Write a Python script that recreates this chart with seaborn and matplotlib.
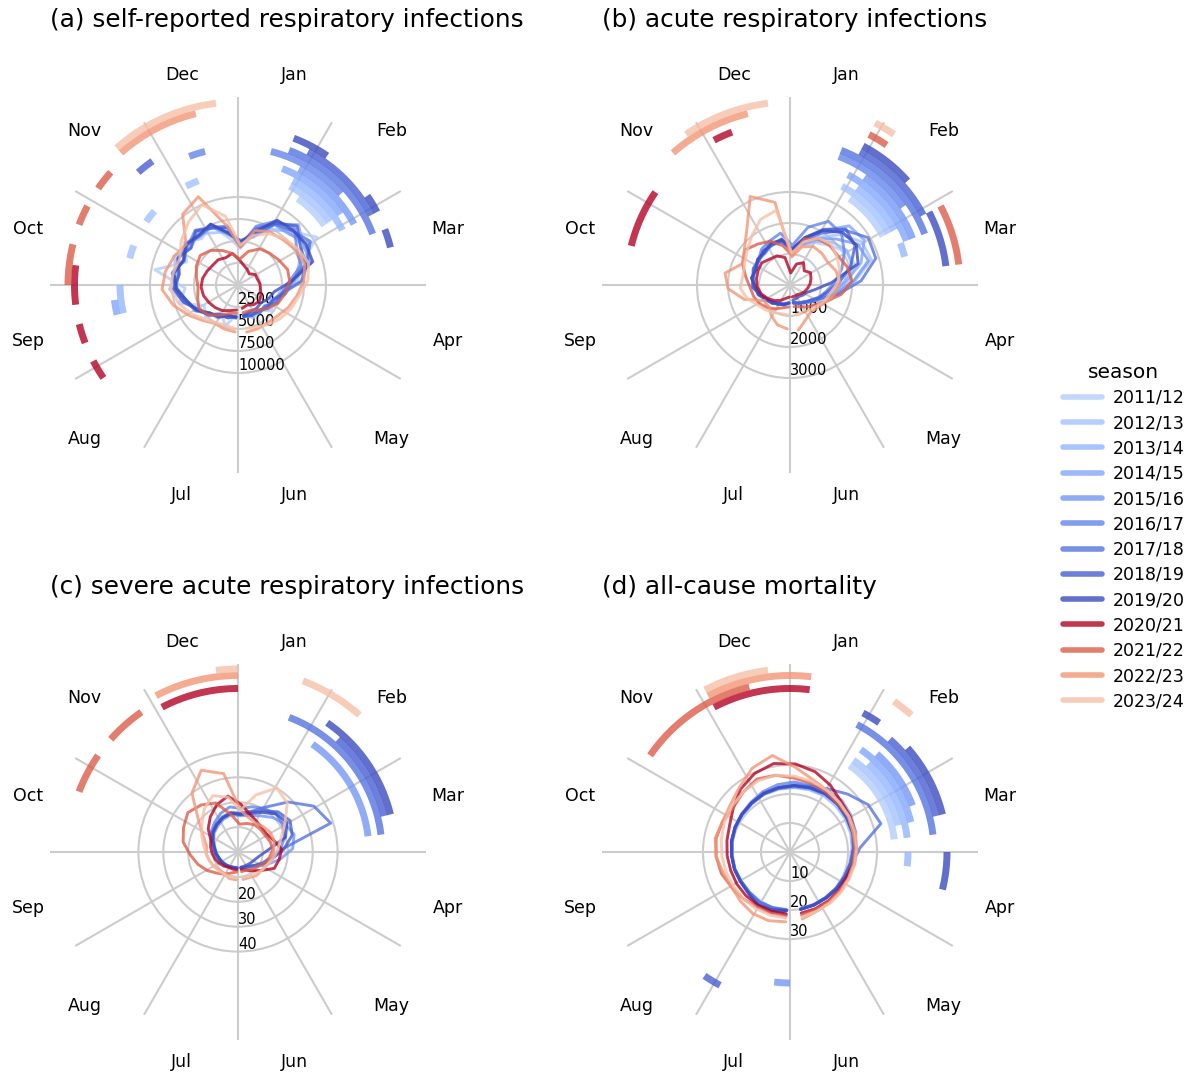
import numpy as np
import pandas as pd
import matplotlib
matplotlib.use("Agg")
import matplotlib.pyplot as plt
import seaborn as sns
from matplotlib.lines import Line2D

# ---------------- data ----------------
seasons = ["2011/12", "2012/13", "2013/14", "2014/15", "2015/16", "2016/17", "2017/18",
           "2018/19", "2019/20", "2020/21", "2021/22", "2022/23", "2023/24"]
months = ["Jan", "Feb", "Mar", "Apr", "May", "Jun", "Jul", "Aug", "Sep", "Oct", "Nov", "Dec"]
# calendar weeks of the season (July -> June), every second week
weeks = [27, 29, 31, 33, 35, 37, 39, 41, 43, 45, 47, 49, 51, 1, 3, 5, 7, 9, 11, 13, 15, 17, 19, 21, 23, 25]

sri = [
    [3400, 4900, 3600, 5200, 4500, 7000, 6000, 9600, 6400, 7800, 6700, 7400, 5400, 4200, 6000, 7400, 8600, 10500, 7400, 6800, 5000, 4400, 4800, 3600, 4100, 3400],
    [3500, 3900, 3800, 4700, 5400, 6400, 7800, 7000, 8000, 6800, 7400, 6500, 6200, 4300, 6300, 7200, 8900, 8800, 8700, 6400, 5500, 4400, 4200, 3700, 3800, 3400],
    [3700, 3600, 4400, 4500, 5600, 6000, 7200, 7600, 6800, 7600, 7200, 7400, 5900, 5000, 6000, 8200, 8400, 8600, 7200, 6400, 4800, 4700, 3800, 4000, 3500, 3700],
    [3600, 3900, 3900, 4800, 5300, 6500, 7300, 7000, 7500, 6800, 7600, 7100, 6600, 4400, 6800, 8100, 9700, 8700, 8600, 6200, 5500, 4400, 4400, 3700, 3900, 3600],
    [3800, 3600, 4200, 4600, 5700, 6100, 6900, 7500, 6800, 7500, 7000, 7300, 5800, 5100, 5700, 8000, 8200, 9300, 8300, 7300, 5200, 4900, 3900, 4000, 3600, 3700],
    [3600, 3900, 4000, 4800, 5300, 6400, 7200, 6800, 7400, 7200, 7900, 7200, 6800, 4500, 7000, 8500, 9100, 7800, 7500, 5800, 5100, 4200, 4200, 3700, 3800, 3600],
    [3700, 3600, 4300, 4500, 5600, 6100, 7100, 7600, 6700, 7400, 7100, 7500, 6000, 5000, 5900, 8100, 8700, 9600, 8200, 7200, 5100, 4800, 3900, 4000, 3600, 3700],
    [3600, 3900, 3900, 4800, 5400, 6500, 7300, 6800, 7500, 6800, 7800, 7100, 6600, 4400, 6600, 8200, 9500, 8300, 8100, 6100, 5300, 4300, 4200, 3700, 3800, 3600],
    [3700, 3600, 4200, 4500, 5500, 6100, 7000, 7400, 6800, 7500, 7200, 7600, 6000, 4900, 6300, 8600, 8800, 9000, 8900, 6000, 4200, 3800, 3300, 3400, 3300, 3500],
    [2850, 3050, 3400, 3650, 3850, 4100, 4200, 4100, 3850, 3650, 3650, 3400, 3650, 2850, 2300, 2050, 1800, 2300, 2300, 2500, 2600, 2850, 3050, 2850, 2500, 2700],
    [3200, 3400, 4000, 4800, 5200, 4800, 4550, 4800, 5200, 5450, 5000, 4300, 3650, 2950, 4000, 4800, 5100, 5450, 5900, 5900, 5450, 5000, 4300, 3650, 3200, 3200],
    [5350, 5250, 5100, 5700, 6600, 7700, 8650, 8400, 7950, 7500, 10200, 11000, 6800, 4300, 6500, 7050, 7250, 7700, 7950, 7500, 6800, 6250, 5700, 5450, 5450, 5450],
    [5000, 4750, 5000, 5450, 6250, 7050, 7700, 7500, 7250, 8200, 9100, 10000, 7950, 4550, 5900, 6800, 7500, 7950, 8400, 7950, 7050, 6600, 6150, 5700, 5200, 5000],
]

ari = [
    [600, 680, 700, 840, 900, 1080, 1120, 1240, 1220, 1330, 1310, 1420, 1380, 1120, 1330, 1600, 1800, 2100, 2200, 1900, 1450, 1020, 880, 700, 670, 600],
    [590, 640, 720, 780, 930, 1010, 1210, 1220, 1300, 1270, 1410, 1420, 1520, 1130, 1550, 1800, 2300, 2700, 2750, 2100, 1550, 1150, 840, 760, 630, 600],
    [580, 660, 690, 810, 860, 1030, 1100, 1230, 1200, 1300, 1300, 1430, 1400, 1120, 1380, 1650, 1950, 2150, 2100, 1750, 1350, 980, 840, 690, 650, 580],
    [570, 620, 730, 780, 930, 1000, 1200, 1210, 1270, 1270, 1390, 1410, 1500, 1130, 1550, 2050, 2700, 2800, 2400, 1800, 1400, 1000, 870, 690, 660, 570],
    [580, 670, 700, 830, 890, 1070, 1140, 1260, 1220, 1320, 1320, 1440, 1400, 1150, 1400, 1750, 2100, 2550, 2650, 2050, 1500, 1050, 880, 700, 670, 580],
    [590, 640, 740, 780, 920, 1010, 1210, 1220, 1300, 1300, 1480, 1570, 1700, 1280, 1950, 2400, 2350, 2050, 1750, 1450, 1180, 1000, 800, 720, 630, 590],
    [580, 670, 690, 820, 880, 1060, 1130, 1260, 1200, 1320, 1320, 1450, 1420, 1160, 1550, 1950, 2500, 2950, 2900, 2300, 1600, 1080, 880, 700, 670, 580],
    [590, 640, 740, 790, 930, 1010, 1200, 1210, 1280, 1270, 1400, 1410, 1500, 1130, 1600, 2100, 2550, 2450, 2050, 1600, 1230, 1020, 810, 730, 630, 590],
    [580, 670, 690, 820, 880, 1060, 1130, 1260, 1210, 1330, 1350, 1490, 1470, 1170, 1600, 2050, 2400, 2500, 2300, 1350, 820, 590, 530, 470, 480, 500],
    [390, 450, 580, 710, 840, 970, 1060, 1100, 1130, 1160, 1060, 1030, 900, 390, 710, 840, 650, 770, 710, 650, 580, 520, 450, 390, 390, 390],
    [710, 770, 900, 1030, 1160, 1230, 1290, 1450, 1680, 1840, 1680, 1550, 1290, 970, 1550, 1740, 1810, 1810, 1940, 2000, 1680, 1290, 1030, 900, 770, 710],
    [1420, 1350, 1160, 970, 970, 1550, 2000, 2130, 1680, 1870, 2260, 3130, 2710, 900, 1290, 1450, 1450, 1420, 1550, 1610, 1480, 1290, 1160, 1100, 1230, 1480],
    [970, 970, 1030, 1130, 1230, 1450, 1610, 1550, 1610, 1770, 2000, 2320, 2450, 1030, 1450, 1770, 1870, 1770, 1680, 1550, 1350, 1230, 1100, 1030, 970, 970],
]

sari_seasons = seasons[4:]
sari = [
    [6.2, 6.4, 6.6, 7.0, 7.4, 8.0, 8.6, 9.4, 10.8, 12.2, 13.2, 14.4, 15.2, 14.6, 15.4, 17.0, 19.6, 22.0, 23.6, 22.0, 17.0, 12.4, 9.4, 7.6, 6.8, 6.4],
    [6.6, 6.6, 7.0, 7.4, 7.8, 8.4, 9.2, 10.2, 11.8, 13.6, 15.2, 17.0, 18.4, 17.6, 19.0, 20.4, 21.6, 21.0, 19.6, 17.0, 13.4, 10.6, 8.6, 7.2, 6.8, 6.6],
    [6.4, 6.4, 6.8, 7.2, 7.6, 8.2, 9.0, 9.8, 11.4, 13.0, 14.2, 15.4, 16.2, 15.6, 17.0, 21.0, 28.4, 35.6, 39.0, 17.6, 14.0, 11.0, 8.8, 7.2, 6.8, 6.4],
    [6.6, 6.6, 7.0, 7.4, 7.8, 8.2, 9.0, 9.8, 11.4, 13.0, 14.0, 15.0, 15.8, 15.4, 16.8, 19.4, 22.8, 24.4, 22.8, 18.4, 14.2, 11.2, 8.8, 7.4, 6.9, 6.6],
    [6.4, 6.5, 6.8, 7.2, 7.6, 8.0, 8.8, 9.6, 11.0, 12.6, 13.8, 15.0, 15.8, 15.0, 16.2, 18.6, 21.6, 23.0, 20.0, 12.0, 8.8, 7.4, 6.8, 6.4, 6.2, 6.2],
    [7.2, 7.2, 7.2, 8.0, 8.8, 9.6, 10.4, 11.2, 12.0, 15.2, 18.0, 20.8, 22.8, 19.2, 16.0, 14.4, 13.6, 13.6, 15.2, 17.6, 16.8, 16.0, 12.0, 9.6, 8.0, 7.2],
    [8.0, 8.8, 10.4, 12.0, 14.4, 16.8, 19.2, 22.4, 24.0, 25.6, 24.0, 21.6, 15.2, 11.2, 12.0, 12.8, 12.8, 12.8, 13.6, 14.0, 12.8, 11.2, 9.6, 8.8, 8.0, 8.0],
    [11.2, 11.2, 10.4, 10.4, 11.2, 12.0, 12.8, 12.8, 15.2, 20.0, 30.0, 36.0, 32.0, 16.8, 14.4, 13.6, 14.4, 15.2, 15.2, 14.4, 13.6, 12.8, 12.0, 12.0, 11.2, 11.2],
    [10.4, 10.4, 10.4, 10.8, 11.2, 12.0, 12.8, 14.0, 16.0, 18.4, 22.0, 24.8, 22.4, 16.8, 24.0, 30.0, 28.0, 22.0, 18.0, 16.0, 14.4, 12.8, 12.0, 11.2, 10.8, 10.4],
]

mort = [
    [19.8, 20.2, 19.8, 19.6, 19.5, 19.8, 19.9, 20.2, 20.5, 20.8, 21.2, 21.8, 22.2, 22.4, 22.6, 23.0, 23.6, 23.4, 22.8, 22.0, 21.2, 20.6, 20.2, 19.9, 19.8, 19.8],
    [19.9, 20.0, 20.1, 19.8, 19.6, 19.9, 20.1, 20.4, 20.8, 21.1, 21.5, 22.0, 22.3, 22.9, 23.2, 23.6, 24.0, 24.2, 23.8, 22.8, 21.8, 20.9, 20.3, 20.0, 19.9, 19.9],
    [20.1, 20.4, 20.2, 19.8, 19.7, 19.9, 20.0, 20.3, 20.6, 20.9, 21.2, 21.8, 22.0, 22.3, 22.5, 22.6, 22.4, 22.2, 21.9, 21.4, 20.9, 20.4, 20.1, 19.9, 19.9, 20.0],
    [20.2, 20.6, 20.8, 20.0, 19.8, 20.0, 20.1, 20.5, 20.7, 21.0, 21.4, 22.2, 22.6, 23.4, 24.0, 24.8, 25.2, 24.6, 23.4, 22.2, 21.4, 20.8, 20.4, 20.0, 20.0, 20.1],
    [21.6, 20.8, 20.4, 19.8, 19.7, 20.0, 20.1, 20.4, 20.7, 21.0, 21.3, 21.9, 22.2, 22.5, 22.9, 23.2, 23.4, 23.6, 23.2, 22.4, 21.6, 20.8, 20.4, 20.1, 20.0, 20.0],
    [20.1, 20.3, 20.1, 19.8, 19.7, 20.0, 20.1, 20.4, 20.8, 21.2, 21.8, 22.8, 23.6, 24.2, 24.0, 23.6, 23.2, 22.8, 22.4, 21.8, 21.2, 20.6, 20.3, 20.0, 20.0, 20.1],
    [20.0, 20.1, 20.2, 19.8, 19.7, 20.0, 20.1, 20.4, 20.7, 21.0, 21.4, 22.0, 22.4, 23.0, 23.6, 25.4, 28.2, 31.5, 32.8, 24.2, 21.8, 20.8, 20.4, 20.1, 20.0, 20.0],
    [20.4, 21.8, 21.2, 20.2, 19.8, 20.0, 20.1, 20.4, 20.7, 21.0, 21.4, 22.0, 22.4, 22.8, 23.2, 23.6, 23.8, 23.4, 22.8, 22.0, 21.2, 20.6, 20.3, 20.0, 20.0, 20.1],
    [20.2, 20.8, 21.4, 20.2, 19.9, 20.1, 20.2, 20.6, 20.8, 21.1, 21.5, 22.2, 22.6, 23.0, 23.2, 23.4, 23.2, 22.8, 22.6, 23.0, 22.6, 21.2, 20.6, 20.2, 20.1, 20.1],
    [21.4, 21.4, 21.4, 21.4, 21.4, 21.4, 21.7, 22.1, 22.8, 24.8, 27.6, 29.7, 31.0, 30.4, 29.0, 26.9, 24.8, 24.1, 23.5, 22.8, 22.1, 21.4, 21.4, 21.4, 21.4, 21.4],
    [22.1, 22.1, 22.1, 22.8, 23.5, 24.8, 25.5, 25.9, 25.5, 24.8, 26.2, 27.6, 26.9, 25.5, 24.8, 24.1, 23.5, 23.5, 22.8, 22.4, 22.1, 22.1, 21.7, 21.7, 21.7, 22.1],
    [24.1, 24.8, 24.8, 24.1, 23.5, 24.1, 25.5, 26.2, 25.5, 26.2, 28.3, 31.7, 33.8, 29.3, 26.2, 24.8, 24.1, 23.5, 22.8, 22.8, 22.4, 22.1, 22.1, 22.1, 22.4, 23.5],
    [22.8, 22.8, 22.8, 22.8, 22.8, 23.1, 23.5, 24.1, 24.8, 25.5, 26.2, 26.9, 26.9, 26.2, 25.5, 24.8, 24.1, 23.8, 23.5, 23.1, 22.8, 22.4, 22.4, 22.4, 22.4, 22.8],
]

# epidemic weeks per season: (season, first calendar week, last calendar week)
arcs_sri = [
    ("2011/12", 6, 8),
    ("2012/13", 5, 8), ("2012/13", 42, 42), ("2012/13", 45, 45), ("2012/13", 49, 49),
    ("2013/14", 5, 9), ("2013/14", 38, 39),
    ("2014/15", 4, 8), ("2014/15", 38, 38),
    ("2015/16", 5, 9),
    ("2016/17", 3, 7), ("2016/17", 50, 50),
    ("2017/18", 4, 10),
    ("2018/19", 5, 9), ("2018/19", 47, 47),
    ("2019/20", 4, 5), ("2019/20", 9, 9), ("2019/20", 11, 11),
    ("2020/21", 35, 35), ("2020/21", 37, 37), ("2020/21", 39, 40),
    ("2021/22", 40, 41), ("2021/22", 43, 43), ("2021/22", 45, 45),
    ("2022/23", 47, 50),
    ("2023/24", 47, 51),
]
arcs_ari = [
    ("2011/12", 6, 9),
    ("2012/13", 5, 9),
    ("2013/14", 6, 9), ("2013/14", 11, 11),
    ("2014/15", 5, 10),
    ("2015/16", 6, 10),
    ("2016/17", 4, 8),
    ("2017/18", 4, 10),
    ("2018/19", 5, 9),
    ("2019/20", 5, 7), ("2019/20", 10, 12),
    ("2020/21", 42, 44), ("2020/21", 49, 49),
    ("2021/22", 5, 5), ("2021/22", 10, 12),
    ("2022/23", 47, 50),
    ("2023/24", 5, 5), ("2023/24", 48, 51),
]
arcs_sari = [
    ("2015/16", 6, 12),
    ("2017/18", 4, 12),
    ("2018/19", 7, 11),
    ("2019/20", 6, 11),
    ("2020/21", 49, 52),
    ("2021/22", 43, 44), ("2021/22", 46, 47),
    ("2022/23", 49, 52),
    ("2023/24", 52, 52), ("2023/24", 4, 6),
]
arcs_mort = [
    ("2011/12", 6, 12),
    ("2012/13", 6, 11),
    ("2013/14", 7, 12), ("2013/14", 14, 14),
    ("2014/15", 6, 11),
    ("2015/16", 27, 27), ("2015/16", 7, 10),
    ("2017/18", 5, 12),
    ("2018/19", 31, 31), ("2018/19", 7, 11),
    ("2019/20", 5, 5), ("2019/20", 8, 11), ("2019/20", 14, 15),
    ("2020/21", 49, 52), ("2020/21", 1, 1),
    ("2021/22", 45, 50),
    ("2022/23", 49, 52), ("2022/23", 1, 1),
    ("2023/24", 49, 51), ("2023/24", 6, 6),
]

titles = ["(a) self-reported respiratory infections", "(b) acute respiratory infections",
          "(c) severe acute respiratory infections", "(d) all-cause mortality"]
rticks_a = [2500, 5000, 7500, 10000]
rticks_b = [1000, 2000, 3000]
rticks_c = [10, 20, 30, 40]
rlabels_c = ["", "20", "30", "40"]
rticks_d = [10, 20, 30]

# ---------------- style ----------------
sns.set_theme(style="white")
plt.rcParams['font.family'] = ['DejaVu Sans']
for k in ['text.color', 'axes.labelcolor', 'xtick.color', 'ytick.color']:
    plt.rcParams[k] = 'black'

cmap = plt.get_cmap('coolwarm')
positions = list(np.linspace(0.36, 0.0, 9)) + list(np.linspace(1.0, 0.64, 4))
palette = {s: cmap(p) for s, p in zip(seasons, positions)}

fig = plt.figure(figsize=(11.9, 10.73), dpi=100)

W, H = 1190, 1073
def rect(cx, cy, R=188):
    return [(cx - R) / W, 1 - (cy + R) / H, 2 * R / W, 2 * R / H]

panels = [
    (titles[0], seasons, sri, arcs_sri, rticks_a, [str(t) for t in rticks_a], 21364, rect(238, 285)),
    (titles[1], seasons, ari, arcs_ari, rticks_b, [str(t) for t in rticks_b], 6065, rect(790, 285)),
    (titles[2], sari_seasons, sari, arcs_sari, rticks_c, rlabels_c, 75.5, rect(238, 852)),
    (titles[3], seasons, mort, arcs_mort, rticks_d, [str(t) for t in rticks_d], 64.8, rect(790, 852)),
]

theta_of_week = lambda w: (np.asarray(w) - 0.5) / 52 * 2 * np.pi

for title, sl, vals, arcs, rticks, rlabels, rmax, rc in panels:
    ax = fig.add_axes(rc, projection='polar')
    ax.set_theta_zero_location('N')
    ax.set_theta_direction(-1)

    rows = []
    for s, v in zip(sl, vals):
        for w, val in zip(weeks, v):
            rows.append((s, float(theta_of_week(w)), val))
    df = pd.DataFrame(rows, columns=['season', 'theta', 'value'])
    sns.lineplot(data=df, x='theta', y='value', hue='season', hue_order=sl,
                 palette=palette, sort=False, estimator=None, lw=2.1, alpha=0.8,
                 legend=False, ax=ax)

    for s, a, b in arcs:
        i = seasons.index(s)
        th = np.linspace((a - 1) / 52 * 2 * np.pi, b / 52 * 2 * np.pi, 40)
        r = rmax * (0.5585 + 0.03457 * i)
        ax.plot(th, np.full_like(th, r), color=palette[s], lw=5, alpha=0.8,
                solid_capstyle='butt')

    ax.set_ylim(0, rmax)
    ax.set_xticks(np.deg2rad(np.arange(0, 360, 30)))
    ax.set_xticklabels([])
    ax.set_xticks(np.deg2rad(np.arange(15, 360, 30)), labels=months, minor=True)
    ax.tick_params(axis='x', which='both', length=0)
    ax.tick_params(axis='x', which='minor', pad=14, labelsize=12.5)
    ax.set_yticks(rticks)
    ax.set_yticklabels(rlabels, fontsize=10.5)
    ax.set_rlabel_position(180)
    ax.xaxis.grid(True, which='major', color='#cccccc', lw=1.5)
    ax.xaxis.grid(False, which='minor')
    ax.yaxis.grid(True, color='#cccccc', lw=1.5)
    ax.spines['polar'].set_visible(False)
    ax.set_xlabel('')
    ax.set_ylabel('')
    ax.set_title(title, loc='left', fontsize=17.8, y=1.186, pad=0)

handles = [Line2D([0], [0], color=palette[s], lw=4, alpha=0.8) for s in seasons]
fig.legend(handles, seasons, title='season', loc='center left',
           bbox_to_anchor=(0.880, 0.5), frameon=False, fontsize=12.5,
           title_fontsize=14.5, handlelength=2.25, handletextpad=0.6, labelspacing=0.42)

fig.savefig('out.png', dpi=100)
